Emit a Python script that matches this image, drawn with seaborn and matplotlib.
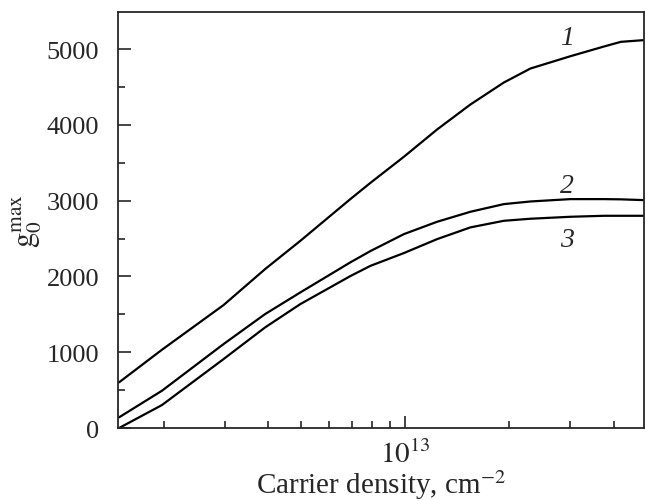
import numpy as np
import pandas as pd
import matplotlib
matplotlib.use("Agg")
import matplotlib.pyplot as plt
import seaborn as sns
from matplotlib.ticker import LogLocator, NullFormatter, FixedLocator, FixedFormatter, MultipleLocator

# Data (carrier density in cm^-2)
density = [1.486e12, 1.977e12, 2.98e12, 3.93e12, 4.97e12, 6.93e12, 7.92e12, 9.9e12,
           1.235e13, 1.542e13, 1.926e13, 2.30e13, 3.0e13, 3.75e13, 4.2e13, 4.88e13]
curve1 = [603, 1033, 1623, 2098, 2471, 3021, 3235, 3580, 3940, 4270, 4560, 4745, 4907, 5035, 5097, 5119]
curve2 = [141, 492, 1108, 1504, 1790, 2186, 2335, 2559, 2722, 2854, 2955, 2990, 3021, 3021, 3018, 3008]
curve3 = [0, 303, 910, 1328, 1636, 2005, 2140, 2309, 2493, 2648, 2735, 2762, 2788, 2801, 2801, 2801]
curve_labels = ["1", "2", "3"]
label_x = [2.94e13, 2.94e13, 2.94e13]
label_y = [5158, 3206, 2493]

df = pd.DataFrame({
    "density": density * 3,
    "gain": curve1 + curve2 + curve3,
    "curve": ["1"] * len(density) + ["2"] * len(density) + ["3"] * len(density),
})

sns.set_style("ticks")
plt.rcParams["font.family"] = ["Liberation Serif", "DejaVu Serif"]
plt.rcParams["mathtext.fontset"] = "stix"

fig = plt.figure(figsize=(6.46, 5.02), dpi=100)
ax = fig.add_axes([0.1834, 0.1454, 0.997 - 0.1834, 0.974 - 0.1454])

sns.lineplot(data=df, x="density", y="gain", units="curve", estimator=None,
             color="black", linewidth=1.6, ax=ax, legend=False, sort=False)

ax.set_xscale("log")
ax.set_xlim(1.48e12, 4.9e13)
ax.set_ylim(0, 5490)

ax.xaxis.set_major_locator(FixedLocator([1e13]))
ax.xaxis.set_major_formatter(FixedFormatter([r"$10^{13}$"]))
ax.xaxis.set_minor_locator(LogLocator(base=10, subs=np.arange(2, 10)))
ax.xaxis.set_minor_formatter(NullFormatter())
ax.yaxis.set_major_locator(MultipleLocator(1000))
ax.yaxis.set_minor_locator(MultipleLocator(500))

ax.tick_params(which="both", direction="in", top=False, right=False, width=1.2)
ax.tick_params(which="major", length=9)
ax.tick_params(which="minor", length=5)
ax.tick_params(axis="y", which="major", labelsize=19, pad=14)
ax.tick_params(axis="x", which="major", labelsize=21, pad=8)

for s in ax.spines.values():
    s.set_linewidth(1.3)
    s.set_visible(True)

ax.set_xlabel(r"Carrier density, cm$^{-2}$", fontsize=21, labelpad=0)
ax.set_ylabel(r"$\mathrm{g}_0^{\mathrm{max}}$", fontsize=22, labelpad=2)

for t, x, y in zip(curve_labels, label_x, label_y):
    ax.text(x, y, t, fontsize=20, style="italic", ha="center", va="center")

fig.savefig("out.png", dpi=100)
